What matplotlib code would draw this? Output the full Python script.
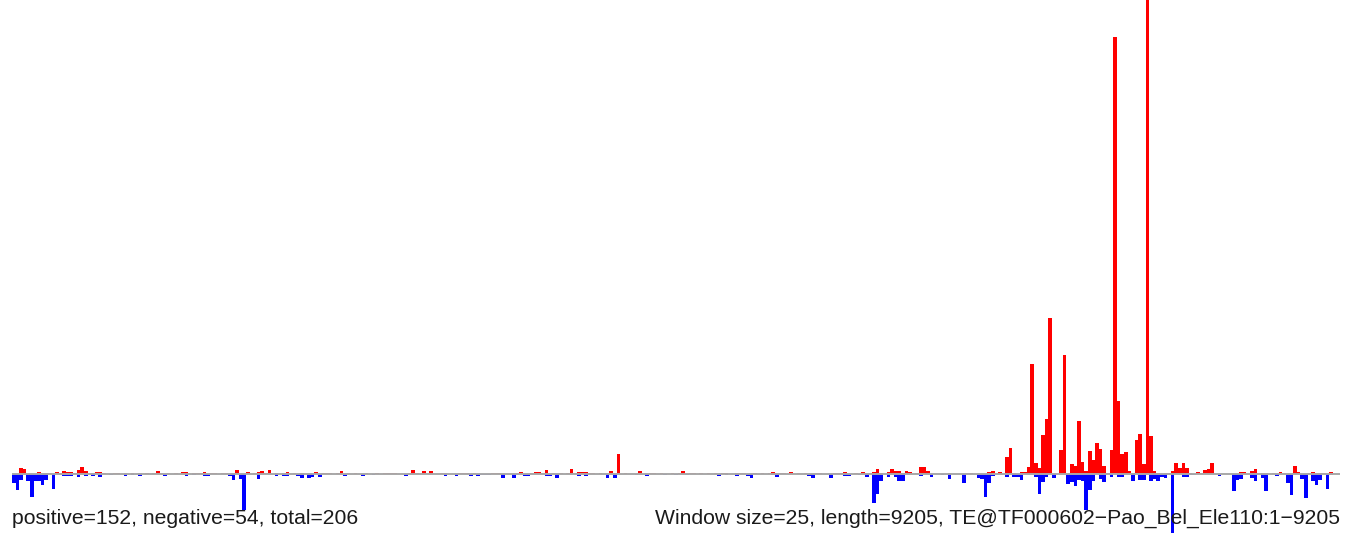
import numpy as np
import matplotlib
matplotlib.use('Agg')
import matplotlib.pyplot as plt

# sliding windows of 25 over a 9205 bp element -> 369 windows
window_size = 25
seq_length = 9205

# positive strand counts per window (drawn upward, red)
pos = [
    0, 0, 6, 5, 0, 0, 0, 2, 1, 1,
    1, 0, 2, 1, 3, 2, 2, 1, 4, 7,
    3, 1, 1, 2, 2, 1, 0, 0, 1, 1,
    0, 1, 0, 1, 0, 1, 0, 1, 0, 1,
    3, 1, 0, 1, 0, 1, 0, 2, 2, 0,
    1, 1, 1, 2, 0, 1, 1, 0, 1, 1,
    0, 0, 4, 0, 0, 2, 0, 1, 2, 3,
    1, 4, 0, 1, 0, 1, 2, 0, 1, 0,
    1, 0, 0, 0, 2, 0, 1, 1, 1, 0,
    1, 3, 0, 1, 0, 1, 0, 0, 1, 0,
    0, 1, 0, 1, 1, 1, 1, 0, 0, 0,
    1, 4, 1, 0, 3, 0, 3, 0, 0, 1,
    1, 0, 0, 0, 1, 1, 1, 0, 1, 0,
    0, 0, 0, 1, 1, 1, 0, 0, 0, 0,
    1, 2, 0, 0, 1, 2, 2, 1, 4, 0,
    1, 0, 1, 0, 1, 5, 1, 2, 2, 2,
    1, 1, 0, 1, 0, 0, 3, 0, 20, 0,
    1, 0, 0, 0, 3, 0, 0, 1, 1, 0,
    1, 0, 0, 1, 0, 1, 3, 0, 1, 1,
    0, 1, 0, 1, 0, 1, 0, 1, 1, 0,
    0, 1, 1, 1, 0, 0, 1, 0, 1, 0,
    1, 2, 0, 1, 1, 0, 2, 0, 1, 0,
    1, 0, 0, 1, 1, 0, 0, 0, 1, 1,
    1, 2, 0, 0, 1, 0, 2, 0, 1, 2,
    5, 1, 0, 2, 5, 3, 3, 1, 3, 2,
    0, 1, 7, 7, 3, 0, 0, 0, 0, 0,
    1, 0, 0, 0, 0, 1, 1, 0, 0, 0,
    0, 2, 3, 0, 2, 0, 17, 26, 1, 0,
    2, 2, 7, 110, 11, 6, 39, 55, 156, 0,
    0, 24, 119, 0, 10, 8, 53, 12, 3, 23,
    14, 31, 25, 8, 1, 24, 437, 73, 20, 22,
    3, 1, 34, 40, 10, 520, 38, 3, 1, 0,
    1, 1, 3, 11, 6, 11, 6, 1, 0, 2,
    1, 4, 5, 11, 0, 0, 0, 0, 0, 0,
    0, 2, 2, 0, 3, 5, 0, 1, 1, 0,
    1, 0, 2, 1, 0, 0, 8, 2, 0, 0,
    1, 2, 1, 1, 1, 0, 2, 0, 0,
]

# negative strand counts per window (drawn downward, blue)
neg = [
    9, 16, 6, 0, 7, 23, 7, 7, 11, 6,
    0, 15, 0, 1, 2, 2, 2, 0, 3, 0,
    2, 0, 2, 0, 3, 0, 0, 1, 0, 0,
    0, 2, 0, 1, 0, 2, 0, 0, 0, 0,
    0, 0, 2, 0, 0, 0, 0, 0, 2, 0,
    1, 0, 0, 2, 2, 0, 0, 0, 0, 0,
    2, 6, 0, 5, 36, 0, 0, 0, 5, 0,
    0, 0, 0, 2, 0, 2, 2, 0, 0, 2,
    4, 0, 4, 3, 0, 3, 0, 0, 0, 0,
    0, 0, 2, 0, 0, 0, 0, 2, 0, 0,
    1, 0, 0, 0, 0, 0, 0, 0, 0, 2,
    0, 0, 0, 0, 0, 0, 0, 0, 0, 0,
    2, 0, 0, 2, 0, 0, 0, 2, 0, 2,
    1, 1, 1, 0, 0, 0, 4, 0, 0, 4,
    1, 0, 2, 2, 0, 0, 0, 0, 2, 2,
    0, 4, 0, 0, 0, 0, 0, 2, 0, 2,
    0, 0, 0, 0, 0, 4, 0, 4, 0, 0,
    0, 0, 0, 1, 0, 0, 2, 0, 0, 0,
    0, 1, 0, 0, 1, 0, 0, 1, 0, 0,
    0, 0, 0, 0, 0, 0, 2, 0, 1, 0,
    0, 2, 0, 0, 2, 4, 0, 0, 0, 0,
    0, 1, 3, 0, 0, 0, 0, 0, 0, 0,
    0, 2, 4, 0, 0, 0, 0, 4, 0, 0,
    0, 2, 2, 0, 0, 1, 0, 3, 0, 29,
    20, 7, 0, 3, 0, 3, 7, 7, 0, 0,
    0, 0, 2, 0, 0, 3, 0, 0, 1, 0,
    5, 0, 0, 0, 9, 0, 0, 0, 4, 5,
    23, 9, 2, 0, 0, 0, 3, 0, 3, 3,
    6, 0, 0, 0, 3, 20, 8, 3, 0, 4,
    0, 0, 0, 10, 8, 12, 6, 7, 36, 16,
    7, 0, 5, 8, 0, 3, 0, 3, 3, 0,
    0, 7, 0, 6, 6, 0, 7, 5, 7, 3,
    4, 0, 65, 0, 0, 3, 3, 1, 1, 0,
    0, 0, 0, 0, 0, 2, 0, 0, 0, 17,
    6, 5, 0, 0, 4, 7, 0, 4, 17, 0,
    0, 2, 0, 0, 9, 21, 0, 0, 5, 24,
    0, 7, 11, 6, 0, 15, 1, 0, 0,
]

left_label = "positive=152, negative=54, total=206"
right_label = ("Window size=25, length=9205, "
               "TE@TF000602\u2212Pao_Bel_Ele110:1\u22129205")

W, H = 1352, 533
fig = plt.figure(figsize=(W / 100, H / 100), dpi=100)
ax = fig.add_axes([0, 0, 1, 1])

n = len(pos)
x = np.arange(n)
ax.bar(x, pos, width=1.0, align='edge', color='#FF0000', linewidth=0, zorder=2)
ax.bar(x, [-v for v in neg], width=1.0, align='edge', color='#0000FF',
       linewidth=0, zorder=2)
ax.plot([0, n], [0, 0], color='#A8A8A8', linewidth=1.4, zorder=3,
        solid_capstyle='butt')

# plot spans pixels 12..1340 horizontally, baseline 474 px from top
left_px, right_px, base_px = 12, 1340, 474
span = n * W / (right_px - left_px)
x0 = -left_px * span / W
ax.set_xlim(x0, x0 + span)
ax.set_ylim(-(H - base_px), base_px)
ax.axis('off')

font = ['Liberation Sans', 'DejaVu Sans']
fig.text(left_px / W, 1 - 518 / H, left_label, ha='left', va='center',
         fontsize=15.2, family=font, color='#1a1a1a')
fig.text(right_px / W, 1 - 518 / H, right_label, ha='right', va='center',
         fontsize=15.2, family=font, color='#1a1a1a')

fig.savefig('out.png', dpi=100)
